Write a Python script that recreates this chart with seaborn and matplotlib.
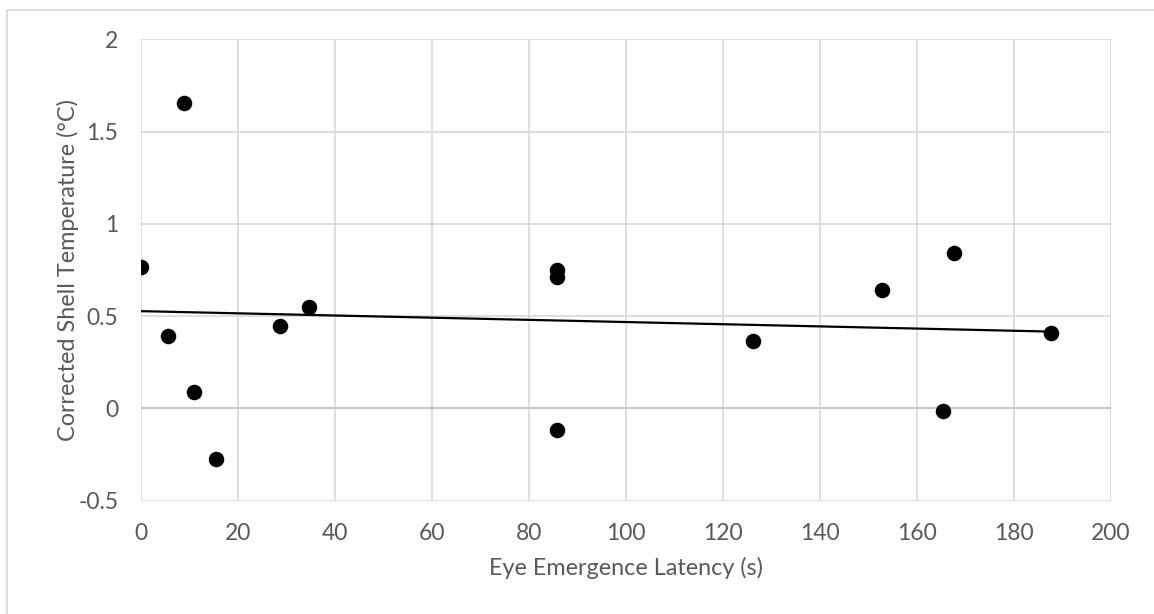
import numpy as np
import pandas as pd
import seaborn as sns
import matplotlib.pyplot as plt
from matplotlib.patches import Rectangle

# Datos
latencia = [0.0, 9.0, 5.6, 11.0, 15.6, 28.7, 34.6, 85.9, 85.9, 85.9, 126.2, 152.8, 167.6, 165.3, 187.7]
temperatura = [0.767, 1.653, 0.395, 0.089, -0.272, 0.449, 0.552, 0.750, 0.715, -0.115, 0.363, 0.643, 0.843, -0.016, 0.411]

datos = pd.DataFrame({"latencia": latencia, "temperatura": temperatura})

xticks = [0, 20, 40, 60, 80, 100, 120, 140, 160, 180, 200]
yticks = [-0.5, 0, 0.5, 1, 1.5, 2]
ytick_labels = ["-0.5", "0", "0.5", "1", "1.5", "2"]

sns.set_style("white")
plt.rcParams['font.family'] = ['Lato', 'DejaVu Sans']

gris = "#595959"
fig = plt.figure(figsize=(11.54, 6.14), dpi=100)
ax = fig.add_axes([0.1219, 0.1845, 0.8408, 0.7512])

# Puntos y linea de tendencia
sns.regplot(data=datos, x="latencia", y="temperatura", ci=None, ax=ax,
            scatter_kws={"s": 125, "color": "black", "alpha": 1, "zorder": 3, "linewidths": 0},
            line_kws={"color": "black", "lw": 1.6, "zorder": 2})

ax.set_xlim(0, 200)
ax.set_ylim(-0.5, 2)
ax.set_xticks(xticks)
ax.set_yticks(yticks)
ax.set_yticklabels(ytick_labels)
ax.grid(True, color="#d9d9d9", lw=1.2)
ax.axhline(0, color="#c4c4c4", lw=1.3, zorder=1)
for s in ax.spines.values():
    s.set_visible(False)
ax.tick_params(length=0, labelsize=16.5, colors=gris, pad=16)

ax.set_xlabel("Eye Emergence Latency (s)", fontsize=16.8, color=gris)
ax.set_ylabel("Corrected Shell Temperature (°C)", fontsize=16.8, color=gris)
ax.xaxis.set_label_coords(0.5, -0.122)
ax.yaxis.set_label_coords(-0.064, 0.5)

# Borde del area del grafico
fig.patches.append(Rectangle((7 / 1154, -0.1), 1.2, 1.1 - 10 / 614, transform=fig.transFigure,
                             fill=False, edgecolor="#d9d9d9", lw=1.2))

fig.savefig("out.png", dpi=100, facecolor="white")
